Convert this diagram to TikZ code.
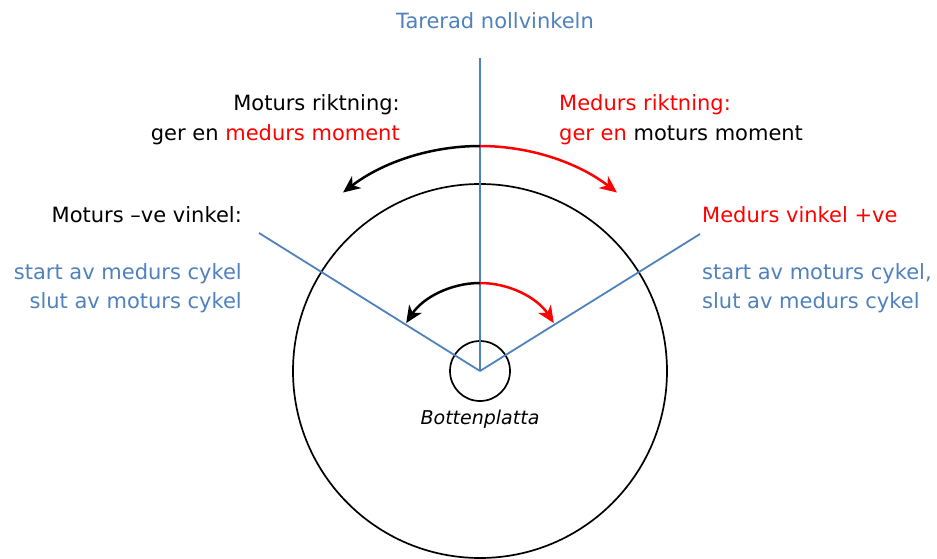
\documentclass[tikz,border=0pt]{standalone}
\usepackage{fontspec}
\setmainfont{DejaVu Sans}
\usetikzlibrary{arrows.meta}
\definecolor{nollblue}{RGB}{79,129,189}
\definecolor{medred}{RGB}{255,0,0}
\tikzset{
  txt/.style={inner sep=0pt, font=\fontsize{21}{26}\selectfont},
  vinkel/.style={draw=nollblue, line width=1.8pt},
  rund/.style={draw=black, line width=1.7pt},
  pil/.style={line width=2.5pt, -{Stealth[length=17pt,width=15pt,inset=5pt]}}
}
\begin{document}
\begin{tikzpicture}[x=1pt,y=1pt]
\useasboundingbox (0,0) rectangle (937,558);

\coordinate (C) at (480,187);
\coordinate (noll) at (480,500);
\coordinate (vL) at (259,325);
\coordinate (vR) at (700,324);

% cirklar
\draw [rund] (C) circle (187);
\draw [rund] (C) circle (30);

% vinklar
\draw [vinkel] (C) -- (noll);
\draw [vinkel] (C) -- (vL);
\draw [vinkel] (C) -- (vR);

% riktningspilar
\coordinate (stor) at (480,412);
\coordinate (liten) at (480,275);
\draw [pil, black] (stor) arc [start angle=90, end angle=127.5, radius=225];
\draw [pil, medred] (stor) arc [start angle=90, end angle=52.5, radius=225];
\draw [pil, black] (liten) arc [start angle=90, end angle=147, radius=88];
\draw [pil, medred] (liten) arc [start angle=90, end angle=33, radius=88];

% texter
\node [txt, text=nollblue, anchor=base] (tarerad) at (495,529) {Tarerad nollvinkeln};

\node [txt, anchor=base east] (motR1) at (400,447) {Moturs riktning:};
\node [txt, anchor=base east] (motR2) at (400,417) {ger en \textcolor{medred}{medurs moment}};
\node [txt, text=medred, anchor=base west] (medR1) at (559,447) {Medurs riktning:};
\node [txt, anchor=base west] (medR2) at (559,417) {\textcolor{medred}{ger en} moturs moment};

\node [txt, anchor=base east] (motV) at (242,335) {Moturs –ve vinkel:};
\node [txt, text=nollblue, anchor=base east] (motV1) at (242,279) {start av medurs cykel};
\node [txt, text=nollblue, anchor=base east] (motV2) at (242,250) {slut av moturs cykel};

\node [txt, text=medred, anchor=base west] (medV) at (702,335) {Medurs vinkel +ve};
\node [txt, text=nollblue, anchor=base west] (medV1) at (702,279) {start av moturs cykel,};
\node [txt, text=nollblue, anchor=base west] (medV2) at (702,250) {slut av medurs cykel};

\node [inner sep=0pt, font=\fontsize{19}{23}\selectfont\itshape, anchor=base] (platta) at (480,134) {Bottenplatta};
\end{tikzpicture}
\end{document}
